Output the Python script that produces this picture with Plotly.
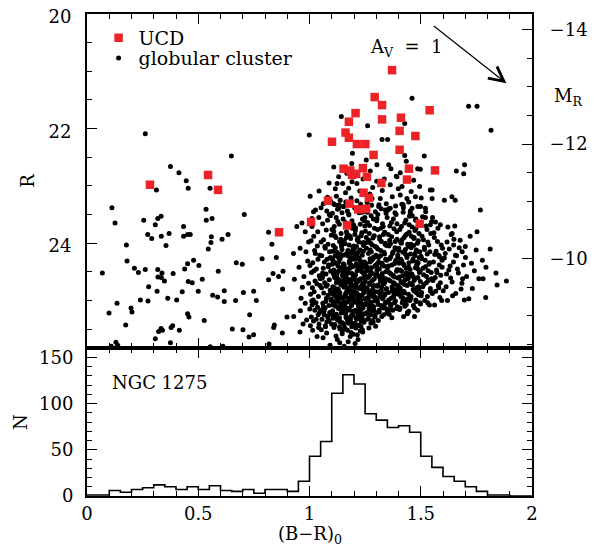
import plotly.graph_objects as go

FONT = "DejaVu Serif"
DM = 34.27            # distance modulus: M_R = R - DM
R_BOTTOM, R_TOP = 25.83, 20.0

# ---------------- UCDs (red squares) ----------------
ucd_x = [1.371, 1.293, 1.326, 1.540, 1.207, 1.411, 1.326, 1.177, 1.405, 1.162,
         1.476, 1.177, 1.101, 1.213, 1.251, 1.405, 1.288, 1.153, 1.183, 1.240,
         1.447, 1.564, 1.191, 1.210, 1.258, 1.438, 1.323, 0.283, 0.544, 0.589,
         1.243, 1.267, 1.083, 1.180, 1.218, 1.255, 1.007, 1.169, 1.495, 0.863]
ucd_r = [20.98, 21.45, 21.59, 21.68, 21.73, 21.81, 21.84, 21.88, 22.04, 22.07,
         22.13, 22.16, 22.23, 22.27, 22.27, 22.37, 22.46, 22.70, 22.73, 22.69,
         22.70, 22.73, 22.81, 22.79, 22.84, 22.89, 22.95, 22.98, 22.81, 23.07,
         23.12, 23.21, 23.26, 23.31, 23.41, 23.40, 23.63, 23.69, 23.66, 23.81]

# ---------------- globular clusters: sparse points (B-R, R) ----------------
gc_sparse = [
    (0.262,22.09),(0.649,22.48),(0.375,22.66),(0.413,22.77),(0.446,22.91),(0.455,23.04),(0.312,23.07),(0.553,23.04),(0.999,22.11),
    (0.112,23.38),(0.126,23.65),(0.255,23.60),(0.307,23.68),(0.318,23.57),(0.333,23.53),(0.434,23.71),(0.535,23.41),(0.536,23.60),(0.562,23.57),
    (0.707,23.50),(0.273,23.85),(0.291,23.92),(0.334,23.88),(0.369,23.83),(0.434,23.88),(0.452,23.85),(0.464,23.85),(0.177,24.03),(0.355,24.04),
    (0.559,23.89),(0.557,23.99),(0.607,23.93),(0.634,23.85),(0.545,24.10),(0.816,23.81),(0.831,24.02),(0.180,24.31),(0.213,24.44),(0.231,24.51),
    (0.262,24.46),(0.318,24.46),(0.337,24.52),(0.319,24.59),(0.334,24.60),(0.348,24.66),(0.387,24.53),(0.452,24.36),(0.439,24.45),(0.479,24.30),
    (0.503,24.39),(0.455,24.67),(0.473,24.69),(0.518,24.63),(0.590,24.49),(0.671,24.34),(0.698,24.37),(0.787,24.27),(0.851,24.25),(0.816,24.64),
    (0.836,24.53),(0.861,24.58),(0.881,24.49),(0.069,24.52),(0.277,24.76),(0.315,24.84),(0.240,24.99),(0.274,25.01),(0.363,24.96),(0.403,24.99),
    (0.428,24.85),(0.500,24.84),(0.565,24.91),(0.587,24.94),(0.617,24.83),(0.617,25.02),(0.668,25.00),(0.703,24.86),(0.749,24.84),(0.761,25.00),
    (0.135,25.05),(0.099,25.22),(0.198,25.13),(0.202,25.20),(0.452,25.23),(0.458,25.29),(0.527,25.35),(0.174,25.43),(0.322,25.54),(0.333,25.49),
    (0.339,25.52),(0.378,25.47),(0.385,25.44),(0.415,25.52),(0.307,25.67),(0.375,25.74),(0.653,25.50),(0.701,25.51),(0.728,25.64),(0.749,25.60),
    (0.731,25.25),(0.839,25.47),(0.842,25.43),(0.878,25.57),(0.818,25.76),(0.109,25.80),(0.130,25.73),(0.138,25.78),(0.554,25.81),(0.611,25.80),
    (0.899,25.29),(0.929,25.28),(0.879,24.80),(0.932,24.63),
    # red-side outskirts
    (1.461,21.47),(1.715,21.61),(1.753,21.61),(1.816,22.03),(1.143,21.79),(1.261,21.95),(1.428,21.91),(1.326,22.19),(1.351,22.19),(1.516,22.48),
    (1.428,22.47),(1.435,22.57),(1.193,22.43),(1.255,22.55),(1.303,22.63),(1.356,22.63),(1.190,22.61),(1.486,22.70),(1.498,22.71),(1.660,22.74),
    (1.693,22.79),(1.697,22.63),(1.109,22.67),(1.390,22.83),(1.408,22.77),(1.366,22.70),(1.495,23.01),(1.551,23.07),(1.551,23.22),(1.640,23.19),
    (1.655,23.25),(1.606,23.25),(1.768,23.42),(1.043,23.09),(1.124,22.96),(1.116,23.05),
    (1.363,22.98),(1.393,22.84),(1.468,22.90),(1.416,23.01),(1.408,23.16),(1.438,23.22),(1.446,23.28),(1.476,23.19),(1.461,23.39),(1.521,23.39),
    (1.543,23.07),(1.566,23.63),(1.588,23.68),(1.543,23.68),(1.641,23.83),(1.618,23.98),(1.648,24.03),(1.700,24.06),(1.686,24.15),(1.656,24.21),
    (1.596,24.30),(1.581,24.21),(1.363,23.39),(1.341,23.42),(1.311,23.36),(1.303,23.57),
    (1.131,22.84),(1.149,22.96),(1.176,23.04),(1.191,22.93),(1.213,22.96),(1.284,23.03),(1.138,23.25),(1.108,23.31),(1.131,23.39),(1.153,23.36),
    (1.281,23.22),(1.018,23.45),(1.011,23.57),(0.966,23.65),(0.943,23.71),(0.981,23.80),(0.928,24.18),(0.958,24.09),(0.996,23.98),
    (1.843,24.73),(1.885,24.66),(1.812,24.10),(1.838,24.52),(1.793,24.42),(1.780,24.62),
    (0.953,24.42),(0.968,24.77),(0.981,25.05),(0.959,25.18),(0.992,24.31),(0.975,24.58),(0.987,25.34),(0.962,24.96),(0.996,24.70),(0.971,25.41),
    (0.984,24.15),(0.957,25.55),
    # upper edge of the red sequence
    (1.062,23.31),(1.078,23.44),(1.095,23.27),(1.121,23.18),(1.146,23.47),(1.162,23.12),(1.187,23.21),(1.203,23.38),(1.226,23.09),(1.238,23.46),
    (1.259,23.29),(1.271,23.14),(1.296,23.45),(1.318,23.22),(1.327,23.08),(1.345,23.31),(1.372,23.19),(1.384,23.47),(1.399,23.05),(1.421,23.33),
    (1.453,23.48),(1.487,23.36),(1.502,23.21),(1.176,23.49),(1.213,23.26),(1.251,23.44),(1.133,23.33),(1.089,23.50),(1.307,23.50),(1.356,23.40),
    (1.241,22.88),(1.302,22.92),(1.168,22.78),(1.273,22.74),(1.336,22.88),(1.457,23.10),(1.521,23.55),(1.478,23.58),
]

# ---------------- globular clusters: dense red sequence, by colour column ----------------
col100_x = [1.003,1.027,1.011,1.042,1.019,1.035,1.007,1.046,1.023,1.015,1.038,1.031,1.002,1.044,1.009,1.025,1.048,1.013,1.033,1.021,
            1.040,1.005,1.029,1.017,1.036,1.012,1.045,1.024,1.008,1.039,1.018,1.030,1.004,1.043,1.014,1.034,1.026,1.047,1.010,1.037,
            1.020,1.001,1.041]
col100_r = [23.18,23.42,23.71,23.55,23.88,24.05,23.96,24.21,24.13,24.34,24.28,24.45,24.39,24.57,24.51,24.66,24.62,24.78,24.71,24.85,
            24.93,24.89,25.04,24.99,25.12,25.08,25.21,25.17,25.29,25.25,25.36,25.33,25.44,25.41,25.52,25.63,24.18,24.74,25.01,23.80,
            24.48,25.15,25.47]
col105_x = [1.088,1.081,1.052,1.094,1.059,1.075,1.098,1.063,1.083,1.071,1.090,1.055,1.079,1.067,1.086,1.062,1.095,1.074,1.058,1.089,
            1.068,1.080,1.054,1.093,1.064,1.084,1.076,1.097,1.060,1.087,1.070,1.051,1.091,1.066,1.082,1.056,1.078,1.099,1.072,1.053,
            1.077,1.061,1.092,1.069,1.085,1.057,1.096,1.073,1.065,1.088,1.081,1.052,1.094,1.059,1.075,1.098,1.063,1.083,1.071]
col105_r = [22.95,23.20,23.38,23.52,23.66,23.77,23.86,23.94,24.02,24.09,24.15,24.22,24.28,24.33,24.38,24.44,24.49,24.54,24.59,24.64,
            24.69,24.73,24.78,24.82,24.87,24.91,24.96,25.00,25.05,25.09,25.13,25.17,25.21,25.25,25.29,25.33,25.37,25.41,25.46,25.51,
            25.57,25.65,25.78,24.06,24.41,24.61,24.85,25.02,25.19,25.35,23.60,23.98,24.25,24.52,24.75,24.98,25.11,25.27,25.44]
col110_x = [1.103,1.127,1.111,1.142,1.119,1.135,1.107,1.146,1.123,1.115,1.138,1.131,1.102,1.144,1.109,1.125,1.148,1.113,1.133,1.121,
            1.140,1.105,1.129,1.117,1.136,1.112,1.145,1.124,1.108,1.139,1.118,1.130,1.104,1.143,1.114,1.134,1.126,1.147,1.110,1.137,
            1.120,1.101,1.141,1.116,1.132,1.106,1.128,1.149,1.122,
            1.122,1.149,1.128,1.106,1.132,1.116,1.141,1.101,1.120,1.137,1.110,1.147,1.126,1.134,1.114,1.143,1.104,1.130,1.118,1.139,
            1.108,1.124,1.145,1.112,1.136,1.117,1.129,1.105,1.140,1.121,1.133,1.113,1.148,1.125,1.109,1.144,1.102,1.131,1.138,1.115,
            1.123,1.146,1.107,1.135,1.119,1.142,1.111,1.127,1.103,1.114,1.136]
col110_r = [23.48,23.62,23.71,23.83,23.90,23.97,24.04,24.11,24.16,24.22,24.27,24.33,24.37,24.42,24.47,24.52,24.56,24.60,24.64,24.69,
            24.72,24.76,24.80,24.84,24.88,24.91,24.95,24.99,25.03,25.06,25.10,25.14,25.18,25.22,25.26,25.30,25.34,25.39,25.44,25.50,
            23.55,23.76,23.93,24.08,24.19,24.30,24.40,24.50,24.58,24.67,24.74,24.82,24.89,24.97,25.04,25.12,25.20,25.28,25.37,25.47,
            25.58,23.41,23.67,23.87,24.01,24.14,24.25,24.35,24.45,24.54,24.62,24.71,24.78,24.86,24.93,25.01,25.08,25.16,25.24,25.32,
            25.42,25.53,25.68,23.79,24.06,24.28,24.48,24.66,24.84,25.00,25.15,25.31,25.46,25.62,24.20,24.57,24.92,25.25,23.33,25.74]
col115_x = [1.153,1.177,1.161,1.192,1.169,1.185,1.157,1.196,1.173,1.165,1.188,1.181,1.152,1.194,1.159,1.175,1.198,1.163,1.183,1.171,
            1.190,1.155,1.179,1.167,1.186,1.162,1.195,1.174,1.158,1.189,1.168,1.180,1.154,1.193,1.164,1.184,1.176,1.197,1.160,1.187,
            1.170,1.151,1.191,1.166,1.182,1.156,1.178,1.199,1.172,
            1.172,1.199,1.178,1.156,1.182,1.166,1.191,1.151,1.170,1.187,1.160,1.197,1.176,1.184,1.164,1.193,1.154,1.180,1.168,1.189,
            1.158,1.174,1.195,1.162,1.186,1.167,1.179,1.155,1.190,1.171,1.183,1.163,1.198,1.175,1.159,1.194,1.152,1.181,1.188,1.165,
            1.173,1.196,1.157,1.185,1.169,1.192,1.161,1.177,1.153,
            1.154,1.178,1.162,1.193,1.170,1.186,1.158,1.197,1.174,1.166,1.189,1.182,1.153,1.195,1.160,1.176,1.199,1.164,1.184,1.172,
            1.191,1.156]
col115_r = [23.36,23.51,23.64,23.74,23.84,23.92,24.00,24.07,24.13,24.19,24.25,24.31,24.36,24.41,24.46,24.51,24.55,24.60,24.64,24.68,
            24.73,24.77,24.81,24.85,24.89,24.93,24.97,25.01,25.05,25.09,25.13,25.17,25.21,25.25,25.29,25.33,25.38,25.43,25.49,25.56,
            23.44,23.58,23.70,23.80,23.88,23.96,24.03,24.10,24.16,24.22,24.28,24.34,24.39,24.44,24.49,24.53,24.58,24.62,24.66,24.71,
            24.75,24.79,24.83,24.87,24.91,24.95,24.99,25.03,25.07,25.11,25.15,25.19,25.23,25.27,25.31,25.36,25.41,25.46,25.52,25.63,
            23.28,23.68,23.86,24.01,24.12,24.21,24.30,24.38,24.45,24.52,24.59,24.65,24.72,24.78,24.84,24.90,24.96,25.02,25.08,25.14,
            25.20,25.26,25.32,25.39,25.47,25.59,25.72,23.90,24.17,24.42,24.69,24.94,25.18,25.40,24.05,24.56,24.98,25.35,23.61,25.80]
col120_x = [1.222,1.249,1.228,1.206,1.232,1.216,1.241,1.201,1.220,1.237,1.210,1.247,1.226,1.234,1.214,1.243,1.204,1.230,1.218,1.239,
            1.208,1.224,1.245,1.212,1.236,1.217,1.229,1.205,1.240,1.221,1.233,1.213,1.248,1.225,1.209,1.244,1.202,1.231,1.238,1.215,
            1.223,1.246,1.207,1.235,1.219,1.242,1.211,1.227,1.203,
            1.203,1.227,1.211,1.242,1.219,1.235,1.207,1.246,1.223,1.215,1.238,1.231,1.202,1.244,1.209,1.225,1.248,1.213,1.233,1.221,
            1.240,1.205,1.229,1.217,1.236,1.212,1.245,1.224,1.208,1.239,1.218,1.230,1.204,1.243,1.214,1.234,1.226,1.247,1.210,1.237,
            1.220,1.201,1.241,1.216,1.232,1.206,1.228,1.249,1.222,
            1.221,1.248,1.229,1.207,1.231,1.217,1.242,1.202,1.219,1.238,1.211,1.246,1.227,1.233,1.215,1.244,1.205]
col120_r = [23.40,23.55,23.67,23.78,23.87,23.95,24.02,24.09,24.15,24.21,24.27,24.33,24.38,24.43,24.48,24.53,24.57,24.62,24.66,24.70,
            24.75,24.79,24.83,24.87,24.91,24.95,24.99,25.03,25.07,25.11,25.15,25.19,25.23,25.27,25.31,25.35,25.40,25.45,25.51,25.60,
            23.47,23.61,23.73,23.82,23.91,23.99,24.06,24.12,24.18,24.24,24.30,24.36,24.41,24.46,24.50,24.55,24.60,24.64,24.68,24.73,
            24.77,24.81,24.85,24.89,24.93,24.97,25.01,25.05,25.09,25.13,25.17,25.21,25.25,25.29,25.33,25.38,25.43,25.48,25.55,25.68,
            23.32,23.85,24.04,24.20,24.34,24.47,24.58,24.69,24.80,24.90,25.00,25.10,25.20,25.30,25.41,25.53,23.70,23.98,24.26,24.52,
            24.76,25.02,25.24,25.44,24.14,24.63,25.06,23.58,24.40,24.86,25.16,25.36,23.93,24.71,25.75]
col125_x = [1.253,1.277,1.261,1.292,1.269,1.285,1.257,1.296,1.273,1.265,1.288,1.281,1.252,1.294,1.259,1.275,1.298,1.263,1.283,1.271,
            1.290,1.255,1.279,1.267,1.286,1.262,1.295,1.274,1.258,1.289,1.268,1.280,1.254,1.293,1.264,1.284,1.276,1.297,1.260,1.287,
            1.270,1.251,1.291,1.266,1.282,1.256,1.278,1.299,1.272,
            1.272,1.299,1.278,1.256,1.282,1.266,1.291,1.251,1.270,1.287,1.260,1.297,1.276,1.284,1.264,1.293,1.254,1.280,1.268,1.289,
            1.258,1.274,1.295,1.262,1.286,1.267,1.279,1.255,1.290,1.271,1.283,1.263,1.298,1.275,1.259,1.294]
col125_r = [23.38,23.52,23.64,23.74,23.83,23.91,23.99,24.06,24.12,24.18,24.24,24.30,24.35,24.40,24.45,24.50,24.55,24.60,24.65,24.69,
            24.74,24.78,24.83,24.87,24.91,24.95,24.99,25.03,25.07,25.11,25.15,25.19,25.23,25.27,25.31,25.35,25.40,25.45,23.46,23.58,
            23.69,23.79,23.87,23.95,24.03,24.09,24.15,24.21,24.27,24.33,24.38,24.43,24.48,24.53,24.58,24.62,24.67,24.72,24.76,24.80,
            24.85,24.89,24.93,24.97,25.01,25.05,25.09,25.13,25.17,25.21,25.25,25.29,25.33,25.38,25.48,23.34,23.90,24.25,24.56,24.82,
            25.06,25.22,24.00,24.41,24.94]
col130_x = [1.322,1.349,1.328,1.306,1.332,1.316,1.341,1.301,1.320,1.337,1.310,1.347,1.326,1.334,1.314,1.343,1.304,1.330,1.318,1.339,
            1.308,1.324,1.345,1.312,1.336,1.317,1.329,1.305,1.340,1.321,1.333,1.313,1.348,1.325,1.309,1.344,1.302,1.331,1.338,1.315,
            1.323,1.346,1.307,1.335,1.319,1.342,1.311,1.327,1.303,
            1.303,1.327,1.311,1.342,1.319,1.335,1.307,1.346,1.323,1.315,1.338,1.331,1.302,1.344,1.309,1.325,1.348,1.313,1.333,1.321,
            1.340,1.305,1.329,1.317,1.336,1.312]
col130_r = [23.40,23.55,23.66,23.76,23.85,23.93,24.00,24.07,24.13,24.19,24.25,24.30,24.35,24.40,24.45,24.50,24.55,24.60,24.64,24.68,
            24.73,24.77,24.81,24.85,24.89,24.93,24.97,25.01,25.05,25.09,25.13,25.17,25.22,25.28,25.35,23.48,23.61,23.71,23.81,23.89,
            23.97,24.04,24.10,24.16,24.22,24.28,24.33,24.38,24.43,24.48,24.53,24.58,24.62,24.66,24.71,24.75,24.79,24.83,24.87,24.91,
            24.95,24.99,25.03,25.07,25.11,25.15,25.20,25.25,23.74,24.02,24.36,24.69,24.94,25.12,23.33]
col135_x = [1.353,1.377,1.361,1.392,1.369,1.385,1.357,1.396,1.373,1.365,1.388,1.381,1.352,1.394,1.359,1.375,1.398,1.363,1.383,1.371,
            1.390,1.355,1.379,1.367,1.386,1.362,1.395,1.374,1.358,1.389,1.368,1.380,1.354,1.393,1.364,1.384,1.376,1.397,1.360,1.387,
            1.370,1.351,1.391,1.366,1.382,1.356,1.378,1.399,1.372,
            1.372,1.399,1.378,1.356,1.382,1.366,1.391,1.351,1.370,1.387,1.360,1.397,1.376,1.384,1.364,1.393,1.354,1.380,1.368]
col135_r = [23.42,23.58,23.70,23.80,23.89,23.97,24.05,24.12,24.18,24.24,24.30,24.36,24.41,24.46,24.51,24.56,24.61,24.66,24.71,24.76,
            24.81,24.86,24.91,24.96,25.01,25.06,25.11,25.17,25.24,23.50,23.64,23.75,23.85,23.93,24.01,24.08,24.15,24.21,24.27,24.33,
            24.38,24.43,24.49,24.54,24.59,24.64,24.69,24.74,24.79,24.84,24.89,24.94,24.99,25.04,25.09,25.14,25.20,25.30,23.35,23.95,
            24.25,24.57,24.87,25.08,23.66,24.40,24.72,25.16]
col140_x = [1.422,1.449,1.428,1.406,1.432,1.416,1.441,1.401,1.420,1.437,1.410,1.447,1.426,1.434,1.414,1.443,1.404,1.430,1.418,1.439,
            1.408,1.424,1.445,1.412,1.436,1.417,1.429,1.405,1.440,1.421,1.433,1.413,1.448,1.425,1.409,1.444,1.402,1.431,1.438,1.415,
            1.423,1.446,1.407,1.435,1.419,1.442,1.411,1.427,1.403,
            1.403,1.427,1.411,1.442,1.419,1.435,1.407,1.446,1.423,1.415,1.438,1.431,1.402,1.444,1.409,1.425,1.448,1.413,1.433,1.421,1.440]
col140_r = [23.38,23.53,23.65,23.76,23.86,23.94,24.02,24.09,24.16,24.22,24.28,24.34,24.39,24.44,24.49,24.54,24.59,24.64,24.69,24.74,
            24.79,24.84,24.89,24.94,24.99,25.04,25.10,25.16,25.23,23.46,23.60,23.71,23.81,23.90,23.98,24.06,24.13,24.19,24.25,24.31,
            24.37,24.42,24.47,24.52,24.57,24.62,24.67,24.72,24.77,24.82,24.87,24.92,24.97,25.02,25.07,25.13,25.19,25.28,23.32,23.84,
            24.11,24.35,24.61,24.85,25.05,23.68,24.00,24.55,24.96,25.21]
col145_x = [1.453,1.477,1.461,1.492,1.469,1.485,1.457,1.496,1.473,1.465,1.488,1.481,1.452,1.494,1.459,1.475,1.498,1.463,1.483,1.471,
            1.490,1.455,1.479,1.467,1.486,1.462,1.495,1.474,1.458,1.489,1.468,1.480,1.454,1.493,1.464,1.484,1.476,1.497,1.460,1.487,
            1.470,1.451,1.491,1.466,1.482,1.456,1.478,1.499,1.472,
            1.472,1.499,1.478,1.456,1.482,1.466,1.491,1.451,1.470,1.487,1.460,1.497,1.476]
col145_r = [23.44,23.60,23.72,23.83,23.92,24.00,24.08,24.15,24.22,24.28,24.34,24.40,24.46,24.51,24.57,24.62,24.67,24.73,24.78,24.84,
            24.90,24.96,25.02,25.09,25.17,23.52,23.66,23.78,23.88,23.96,24.04,24.12,24.19,24.25,24.31,24.37,24.43,24.49,24.54,24.60,
            24.65,24.70,24.76,24.81,24.87,24.93,24.99,25.06,25.13,25.28,23.36,23.75,24.02,24.33,24.58,24.80,25.00,23.90,24.45,24.72,
            25.04,24.17]
col150_x = [1.522,1.549,1.528,1.506,1.532,1.516,1.541,1.501,1.520,1.537,1.510,1.547,1.526,1.534,1.514,1.543,1.504,1.530,1.518,1.539,
            1.508,1.524,1.545,1.512,1.536,1.517,1.529,1.505,1.540,1.521,1.533,1.513,1.548,1.525,1.509,1.544,1.502,1.531]
col150_r = [23.45,23.62,23.76,23.88,23.98,24.07,24.15,24.23,24.30,24.37,24.44,24.51,24.58,24.65,24.72,24.79,24.86,24.93,25.00,25.08,
            23.54,23.70,23.83,23.94,24.03,24.11,24.19,24.27,24.34,24.41,24.48,24.55,24.62,24.69,24.76,24.84,24.92,25.04]
col155_x = [1.553,1.577,1.561,1.592,1.569,1.585,1.557,1.596,1.573,1.565,1.588,1.581,1.552,1.594,1.559,1.575,1.598,1.563,1.583,1.571,
            1.590,1.555,1.579,1.567,1.586,1.562]
col155_r = [23.55,23.74,23.90,24.03,24.14,24.24,24.33,24.42,24.51,24.60,24.69,24.78,24.88,25.00,23.82,23.97,24.09,24.20,24.38,24.47,
            24.56,24.65,24.74,24.84,24.95,25.08]
col160_x = [1.622,1.649,1.628,1.606,1.632,1.616,1.641,1.601,1.620,1.637,1.610,1.647,1.626,1.634,1.614,1.643]
col160_r = [23.72,23.93,24.10,24.26,24.40,24.54,24.68,24.83,25.00,23.85,24.18,24.33,24.47,24.61,24.76,24.92]
col165_x = [1.653,1.677,1.661,1.692,1.669,1.685,1.657,1.696,1.673,1.665,1.688,1.681]
col165_r = [23.70,23.95,24.22,24.38,24.52,24.70,24.88,24.99,24.08,24.45,24.62,24.80]
col170_x = [1.722,1.749,1.728,1.706,1.732,1.716,1.741,1.701, 1.753,1.777,1.761,1.792]
col170_r = [23.88,24.12,24.35,24.58,24.79,24.97,24.48,24.25, 23.80,24.30,24.62,24.95]

# ---------------- colour histogram (bins of 0.05 in B-R) ----------------
hist_edges = [0.00,0.05,0.10,0.15,0.20,0.25,0.30,0.35,0.40,0.45,0.50,0.55,0.60,0.65,0.70,0.75,0.80,0.85,0.90,0.95,
              1.00,1.05,1.10,1.15,1.20,1.25,1.30,1.35,1.40,1.45,1.50,1.55,1.60,1.65,1.70,1.75,1.80,1.85,1.90,1.95,2.00]
hist_counts = [1,1,6,4,7,9,12,10,7,10,7,11,6,5,7,3,7,7,5,16,
               43,59,111,131,121,89,82,74,76,69,43,31,21,16,10,5,1,1,0,0]

# ---------------- assemble ----------------
gc_x = [p[0] for p in gc_sparse]
gc_r = [p[1] for p in gc_sparse]
for cx, cr in [(col100_x, col100_r), (col105_x, col105_r), (col110_x, col110_r), (col115_x, col115_r),
               (col120_x, col120_r), (col125_x, col125_r), (col130_x, col130_r), (col135_x, col135_r),
               (col140_x, col140_r), (col145_x, col145_r), (col150_x, col150_r), (col155_x, col155_r),
               (col160_x, col160_r), (col165_x, col165_r), (col170_x, col170_r)]:
    for a, b in zip(cx, cr):
        gc_x.append(a)
        gc_r.append(b)

hist_x = hist_edges
hist_y = hist_counts + [hist_counts[-1]]

fig = go.Figure()
fig.add_trace(go.Scatter(x=hist_x, y=hist_y, mode="lines", line=dict(shape="hv", color="black", width=1.6),
                         xaxis="x", yaxis="y", showlegend=False, hoverinfo="skip"))
fig.add_trace(go.Scatter(x=gc_x, y=gc_r, mode="markers", name="globular cluster",
                         marker=dict(size=5.0, color="black", line=dict(width=0)),
                         xaxis="x2", yaxis="y2", legend="legend2"))
fig.add_trace(go.Scatter(x=ucd_x, y=ucd_r, mode="markers", name="UCD",
                         marker=dict(symbol="square", size=8.5, color="#ec2227", line=dict(width=0)),
                         xaxis="x2", yaxis="y2", legend="legend"))
fig.add_trace(go.Scatter(x=[None], y=[None], xaxis="x2", yaxis="y3", showlegend=False, hoverinfo="skip"))

tickfont = dict(family=FONT, size=18, color="black")
base = dict(showline=True, linecolor="black", linewidth=2, ticks="inside", ticklen=10, tickwidth=1.4,
            tickcolor="black", showgrid=False, zeroline=False, tickfont=tickfont, automargin=False,
            ticklabeloverflow="allow")
minor = lambda d: dict(dtick=d, ticks="inside", ticklen=5, tickwidth=1.4, tickcolor="black", showgrid=False)

SPLIT = 148 / 482
legfont = dict(family=FONT, size=19, color="black")
# the page body adds an 8 px offset, so the figure is made 16 px smaller and margins shifted
fig.update_layout(
    width=582, height=538,
    margin=dict(l=79, r=58, t=6, b=50, autoexpand=False),
    paper_bgcolor="white", plot_bgcolor="white",
    font=dict(family=FONT, size=18, color="black"),
    xaxis=dict(base, domain=[0, 1], anchor="y", range=[0, 2], tick0=0, dtick=0.5, minor=minor(0.1),
               mirror="ticks", ticklabelstandoff=0),
    yaxis=dict(base, domain=[0, SPLIT], anchor="x", range=[0, 160], tick0=0, dtick=50, minor=minor(10),
               mirror="ticks", ticklabelstandoff=8,
               title=dict(text="N", font=dict(family=FONT, size=18), standoff=7)),
    xaxis2=dict(base, domain=[0, 1], anchor="y2", range=[0, 2], tick0=0, dtick=0.5, minor=minor(0.1),
                mirror="ticks", showticklabels=False, matches="x"),
    yaxis2=dict(base, domain=[SPLIT, 1], anchor="x2", range=[R_BOTTOM, R_TOP], tick0=20, dtick=2,
                minor=minor(0.5), ticklabelstandoff=10, ticklabelshift=-3,
                title=dict(text="R", font=dict(family=FONT, size=18), standoff=9)),
    yaxis3=dict(base, overlaying="y2", side="right", anchor="x2", range=[R_BOTTOM - DM, R_TOP - DM],
                tick0=-14, dtick=2, minor=minor(0.5), ticklabelstandoff=12),
    legend=dict(x=0.026, y=0.99, xanchor="left", yanchor="top", bgcolor="rgba(0,0,0,0)",
                font=legfont, itemsizing="trace"),
    legend2=dict(x=0.026, y=0.948, xanchor="left", yanchor="top", bgcolor="rgba(0,0,0,0)",
                 font=legfont, itemsizing="trace"),
    annotations=[
        dict(x=1.885, y=21.21, ax=1.552, ay=20.19, xref="x2", yref="y2", axref="x2", ayref="y2",
             text="", showarrow=True, arrowhead=5, arrowsize=2.4, arrowwidth=1.2, arrowcolor="black"),
        dict(x=1.435, y=20.59, xref="x2", yref="y2", text="A<sub>V</sub>\u00a0\u00a0=\u00a0\u00a01",
             showarrow=False, xanchor="center", yanchor="middle",
             font=dict(family=FONT, size=18, color="black")),
        dict(x=1.082, y=0.828, xref="paper", yref="paper", text="M<sub>R</sub>", showarrow=False,
             xanchor="center", yanchor="middle", font=dict(family=FONT, size=18, color="black")),
        dict(x=0.105, y=123, xref="x", yref="y", text="NGC\u00a01275", showarrow=False,
             xanchor="left", yanchor="middle", font=dict(family=FONT, size=18, color="black")),
        dict(x=0.5, y=-0.081, xref="paper", yref="paper", text="(B−R)<sub>0</sub>", showarrow=False,
             xanchor="center", yanchor="middle", font=dict(family=FONT, size=18, color="black")),
    ],
)

fig.write_html("out.html")
